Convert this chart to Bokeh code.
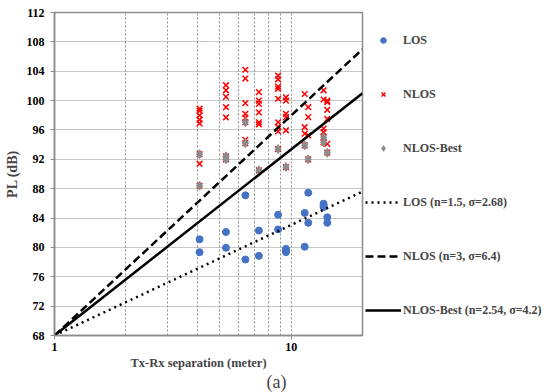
from bokeh.plotting import figure
from bokeh.layouts import row
from bokeh.models import FixedTicker, Legend, LegendItem, Title, NumeralTickFormatter
from bokeh.embed import file_html
from bokeh.resources import INLINE

# ---------------- data ----------------
los_d = [4.1, 4.1, 5.3, 5.3, 6.4, 6.4, 7.3, 7.3, 8.8, 8.8, 9.5, 9.5, 9.5,
         11.4, 11.4, 11.8, 11.8, 13.7, 13.7, 13.7, 14.2, 14.2]
los_pl = [81.1, 79.35, 82.1, 79.95, 87.1, 78.35, 82.3, 78.85, 84.45, 82.45, 79.8, 79.6, 79.35,
          84.7, 80.1, 87.45, 83.35, 85.95, 85.7, 85.5, 84.1, 83.35]

nlos_d = [4.1] * 8 + [5.3] * 7 + [6.4] * 8 + [7.3] * 7 + [8.8] * 9 + [9.5] * 6 + \
         [11.4] * 4 + [11.8] * 4 + [13.7] * 6 + [14.2] * 6
nlos_pl = [98.9, 98.6, 98.0, 97.4, 96.9, 91.4, 92.7, 88.4,
           102.1, 101.4, 100.5, 99.1, 97.7, 92.4, 92.0,
           104.2, 103.0, 99.65, 98.2, 97.65, 94.65, 97.05, 94.2,
           101.15, 100.0, 99.55, 98.4, 97.05, 96.75, 90.5,
           103.4, 102.9, 101.9, 101.6, 100.25, 97.05, 96.4, 95.8, 93.4,
           100.45, 100.0, 98.2, 97.75, 95.95, 90.95,
           100.9, 96.4, 95.5, 93.9,
           99.1, 97.75, 95.25, 92.0,
           101.4, 100.15, 96.2, 95.7, 95.0, 94.3,
           100.0, 99.8, 98.75, 97.5, 94.1, 92.9]

best_d = [4.1, 4.1, 5.3, 5.3, 6.4, 6.4, 7.3, 8.8, 9.5, 11.4, 11.8, 13.7, 13.7, 14.2]
best_pl = [92.7, 88.4, 92.4, 92.0, 97.05, 94.2, 90.5, 93.4, 90.95, 93.9, 92.0, 95.0, 94.3, 92.9]

fit_d = [1, 20]
fit_los = [68, 87.6]
fit_nlos = [68, 107.0]
fit_best = [68, 101.0]

y_ticks = [68, 72, 76, 80, 84, 88, 92, 96, 100, 104, 108, 112]
x_ticks = [1, 10]
x_minor = [2, 3, 4, 5, 6, 7, 8, 9]

labels = ["LOS", "NLOS", "NLOS-Best",
          "LOS (n=1.5, \u03c3=2.68)", "NLOS (n=3, \u03c3=6.4)", "NLOS-Best (n=2.54, \u03c3=4.2)"]

FONT = "Liberation Serif"

# styles
LOS_STYLE = dict(marker="circle", size=7, fill_color="#4472C4", line_color="#4472C4")
NLOS_STYLE = dict(marker="x", size=8, line_color="#FF0000", line_width=1.5)
BEST_STYLE = dict(marker="diamond", size=9, fill_color="#8c8c8c", line_color="#8c8c8c")
FL_STYLE = dict(line_color="black", line_width=2.5, line_dash="2 4")
FN_STYLE = dict(line_color="black", line_width=2.5, line_dash="8 4")
FB_STYLE = dict(line_color="black", line_width=2.5)

p = figure(width=364, height=392, x_axis_type="log", x_range=(1, 20), y_range=(68, 112),
           output_backend="svg", toolbar_location=None,
           min_border_left=54, min_border_right=2, min_border_top=12, min_border_bottom=57)

p.outline_line_color = "#8c8c8c"
p.outline_line_width = 1.5

for ax in (p.xaxis[0], p.yaxis[0]):
    ax.axis_line_color = "#8c8c8c"
    ax.axis_line_width = 1.5
    ax.major_tick_line_color = "#8c8c8c"
    ax.major_tick_out = 4
    ax.major_tick_in = 0
    ax.minor_tick_out = 0
    ax.minor_tick_in = 0
    ax.major_label_text_font = FONT
    ax.major_label_text_font_style = "bold"
    ax.major_label_text_font_size = "12px"
    ax.major_label_text_color = "black"

p.yaxis.ticker = FixedTicker(ticks=y_ticks)
p.xaxis.ticker = FixedTicker(ticks=x_ticks, minor_ticks=x_minor)
p.xaxis.formatter = NumeralTickFormatter(format="0")
p.xaxis.major_label_standoff = 3
p.yaxis.major_label_standoff = 6
p.yaxis.axis_label = "PL (dB)"
p.yaxis.axis_label_text_font = FONT
p.yaxis.axis_label_text_font_style = "bold"
p.yaxis.axis_label_text_font_size = "14px"
p.yaxis.axis_label_standoff = 4

p.ygrid.grid_line_color = "#8f8f8f"
p.ygrid.grid_line_dash = "1 1"
p.xgrid.grid_line_color = "#8f8f8f"
p.xgrid.grid_line_dash = "2 2"
p.xgrid.minor_grid_line_color = "#8f8f8f"
p.xgrid.minor_grid_line_dash = "2 2"

p.scatter(los_d, los_pl, **LOS_STYLE)
p.scatter(nlos_d, nlos_pl, **NLOS_STYLE)
p.scatter(best_d, best_pl, **BEST_STYLE)
p.line(fit_d, fit_los, **FL_STYLE)
p.line(fit_d, fit_nlos, **FN_STYLE)
p.line(fit_d, fit_best, **FB_STYLE)

t1 = Title(text="Tx-Rx separation (meter)", align="left", offset=76, text_font=FONT,
           text_font_style="bold", text_font_size="12.5px", standoff=0)
p.add_layout(t1, "below")
t2 = Title(text="(a)", align="left", offset=212, text_font=FONT,
           text_font_style="normal", text_font_size="18px", standoff=0)
p.add_layout(t2, "below")

# legend panel (right side); its renderers hold the same series, outside its visible range
lg = figure(width=183, height=392, x_range=(0, 1), y_range=(0, 1),
            output_backend="svg", toolbar_location=None,
            x_axis_location=None, y_axis_location=None,
            min_border_left=0, min_border_right=0, min_border_top=0, min_border_bottom=0)
lg.outline_line_color = None
lg.grid.visible = False
rr = [lg.scatter(los_d, los_pl, **LOS_STYLE), lg.scatter(nlos_d, nlos_pl, **NLOS_STYLE),
      lg.scatter(best_d, best_pl, **BEST_STYLE), lg.line(fit_d, fit_los, **FL_STYLE),
      lg.line(fit_d, fit_nlos, **FN_STYLE), lg.line(fit_d, fit_best, **FB_STYLE)]

legend = Legend(items=[LegendItem(label=l, renderers=[r]) for l, r in zip(labels, rr)],
                location=(1, 15), orientation="vertical")
legend.border_line_color = None
legend.background_fill_alpha = 0
legend.label_text_font = FONT
legend.label_text_font_style = "bold"
legend.label_text_font_size = "12px"
legend.glyph_width = 36
legend.glyph_height = 14
legend.label_height = 20
legend.label_standoff = 2
legend.spacing = 34
legend.padding = 0
legend.margin = 0
lg.add_layout(legend, "center")

layout = row(p, lg, spacing=0)
open("out.html", "w").write(file_html(layout, INLINE))
